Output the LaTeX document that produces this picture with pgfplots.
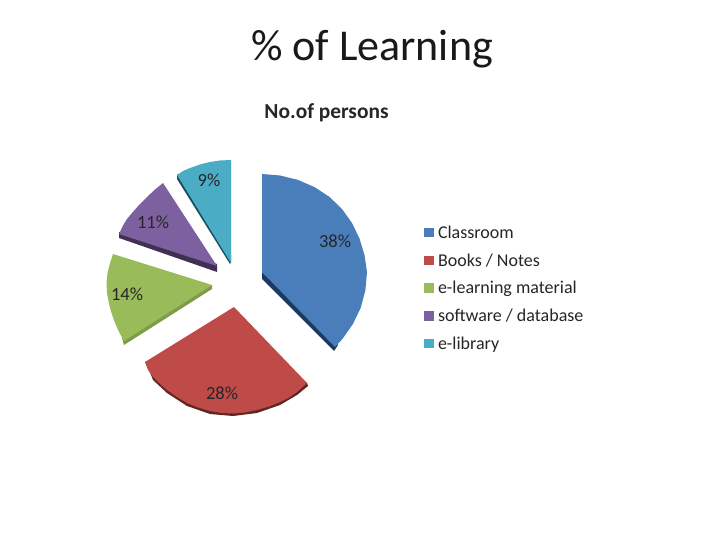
\documentclass[border=0pt]{standalone}
\usepackage{pgfplots}
\pgfplotsset{compat=1.18}
\usepackage{fontspec}
\setmainfont{Carlito}
\definecolor{cblue}{HTML}{4A7EBB}
\definecolor{cred}{HTML}{BE4B48}
\definecolor{cgreen}{HTML}{9ABB59}
\definecolor{cpurple}{HTML}{7D60A0}
\definecolor{cteal}{HTML}{4BACC6}
\definecolor{dblue}{HTML}{1C3A61}
\definecolor{dred}{HTML}{632523}
\definecolor{dgreen}{HTML}{7F9A48}
\definecolor{dpurple}{HTML}{403152}
\definecolor{dteal}{HTML}{17505F}
\begin{document}
\begin{tikzpicture}
\path[use as bounding box] (0,0) rectangle (720pt,540pt);
\begin{axis}[
  at={(0,0)}, anchor=south west,
  scale only axis, width=720pt, height=540pt,
  xmin=0, xmax=720, ymin=0, ymax=540, y dir=reverse,
  axis lines=none, clip=false,
  legend cell align=left,
  legend style={at={(axis cs:424,224)}, anchor=north west, draw=none, fill=none,
    font=\fontsize{18}{18}\selectfont, text=black!85, row sep=9.7pt, inner sep=0pt, outer sep=0pt,
    /tikz/every even column/.append style={column sep=0pt}},
  legend image code/.code={\fill[#1] (0pt,-4.5pt) rectangle (9.5pt,5pt); \path (12pt,0pt);},
]
% sides
\addplot[fill=dblue,draw=none,forget plot] coordinates {(262,272)(262,279)(334,351)(338,345)(335,340)} --cycle;
\addplot[fill=dred,draw=none,forget plot] coordinates {(145,362)(149,370)(153,380)(167,393)(187,406)(210,414)(233,416)(257,413)(280,405)(297,395)(308,386)(307,383)(233,395)} --cycle;
\addplot[fill=dgreen,draw=none,forget plot] coordinates {(212,285)(212,289)(124,345)(122,338)} --cycle;
\addplot[fill=dpurple,draw=none,forget plot] coordinates {(119,232)(119,238)(217,272)(217,264)} --cycle;
\addplot[fill=dteal,draw=none,forget plot] coordinates {(177,174)(177,179)(230,264)(231,262)(231,255)} --cycle;
% tops
\addplot[fill=cblue,draw=none] coordinates {(262,272)(262,174)(280,175.5)(297.9,179.9)(314.5,187.1)(329.5,196.9)(342,209)(352,223)(359.5,238.5)(364.5,255)(367,272)(365.4,290.3)(360.7,307.9)(352.9,324)(342.4,339)(335,347)} --cycle;
\addplot[fill=cred,draw=none] coordinates {(234,307)(145,362)(148,370)(153,377)(160,384)(167,390)(177,397)(187,403)(198,407.5)(210,411)(222,413)(233,413.5)(245,412.5)(257,410)(269,406.5)(280,402)(289,397.5)(297,392)(307,383)} --cycle;
\addplot[fill=cgreen,draw=none] coordinates {(212,285)(113,254)(110,263)(107.5,273)(106.5,283)(107,293)(108.8,303)(111.5,313)(114.7,322)(118.5,331)(124,341)} --cycle;
\addplot[fill=cpurple,draw=none] coordinates {(217,266)(163,183)(155,189.5)(147,197)(139,205)(132,213)(127,219)(123,225.5)(119,234)} --cycle;
\addplot[fill=cteal,draw=none] coordinates {(231,263)(177,175)(183,171)(190,168)(200,164.5)(210,162)(220,160.5)(231,160)} --cycle;
\legend{Classroom,Books / Notes,e-learning material,software / database,e-library}
\node[anchor=center,font=\fontsize{44}{44}\selectfont,text=black!90] at (axis cs:372,49) {\% of Learning};
\node[anchor=center,font=\fontsize{21.4}{22}\selectfont\bfseries,text=black!85] at (axis cs:326.5,113) {No.of persons};
\node[font=\fontsize{18.5}{18}\selectfont,text=black!85] at (axis cs:209,180) {9\%};
\node[font=\fontsize{18.5}{18}\selectfont,text=black!85] at (axis cs:153,222) {11\%};
\node[font=\fontsize{18.5}{18}\selectfont,text=black!85] at (axis cs:127,294) {14\%};
\node[font=\fontsize{18.5}{18}\selectfont,text=black!85] at (axis cs:222,393) {28\%};
\node[font=\fontsize{18.5}{18}\selectfont,text=black!85] at (axis cs:335,241) {38\%};
\end{axis}
\end{tikzpicture}
\end{document}
